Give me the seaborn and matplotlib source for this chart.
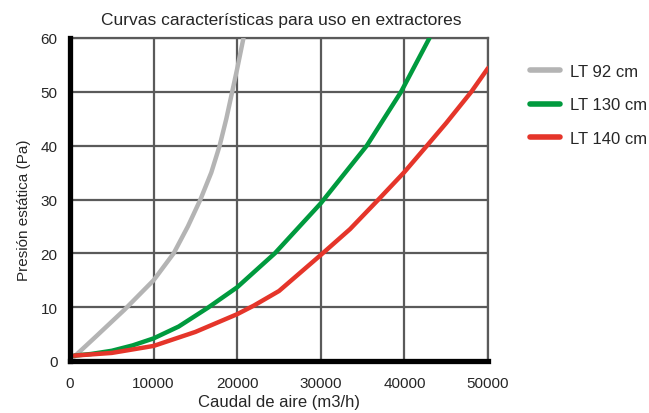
import matplotlib
matplotlib.use("Agg")
import matplotlib.pyplot as plt
import seaborn as sns
import pandas as pd

# ---- data ----
series_names = ["LT 92 cm", "LT 130 cm", "LT 140 cm"]

lt92_flow = [500, 3000, 6500, 10000, 12400, 14100, 15600, 16900, 17900, 18700, 19400, 20000, 20750]
lt92_pres = [0.8, 4.4, 9.5, 15.0, 20.0, 25.0, 30.0, 35.0, 40.0, 45.0, 50.0, 54.3, 60.0]

lt130_flow = [500, 2500, 5000, 7500, 10000, 13000, 16500, 20000, 24500, 30000, 35500, 39600, 43000]
lt130_pres = [1.0, 1.3, 1.9, 2.9, 4.2, 6.4, 9.9, 13.7, 20.0, 29.3, 40.0, 50.0, 60.0]

lt140_flow = [500, 5000, 10000, 15000, 20000, 22000, 25000, 30000, 33500, 36900, 40000, 42700, 45000, 48000, 50000]
lt140_pres = [1.0, 1.5, 2.8, 5.4, 8.7, 10.3, 13.0, 19.7, 24.5, 30.0, 35.1, 40.0, 44.2, 50.0, 54.4]

x_ticks = [0, 10000, 20000, 30000, 40000, 50000]
y_ticks = [0, 10, 20, 30, 40, 50, 60]

colors = ["#b4b4b4", "#009a3e", "#e5352a"]

title = "Curvas características para uso en extractores"
x_label = "Caudal de aire (m3/h)"
y_label = "Presión estática (Pa)"

frames = []
for name, fx, fy in [(series_names[0], lt92_flow, lt92_pres),
                     (series_names[1], lt130_flow, lt130_pres),
                     (series_names[2], lt140_flow, lt140_pres)]:
    frames.append(pd.DataFrame({"flow": fx, "pres": fy, "serie": name}))
df = pd.concat(frames, ignore_index=True)

sns.set_style("white")
plt.rcParams["font.family"] = ["Liberation Sans", "DejaVu Sans"]

W, H = 649, 414
fig = plt.figure(figsize=(W / 100, H / 100), dpi=100)
ax = fig.add_axes([70 / W, 1 - 362 / H, (488 - 70) / W, (362 - 39) / H])

sns.lineplot(data=df, x="flow", y="pres", hue="serie", hue_order=series_names,
             palette=colors, linewidth=3.2, sort=False, estimator=None, ax=ax,
             legend=True, zorder=3)
for ln in ax.get_lines():
    ln.set_solid_capstyle("round")
    ln.set_solid_joinstyle("round")

ax.set_xlim(0, 50000)
ax.set_ylim(0, 60)
ax.set_xticks(x_ticks)
ax.set_yticks(y_ticks)
ax.set_xticklabels([str(v) for v in x_ticks], fontsize=11)
ax.set_yticklabels([str(v) for v in y_ticks], fontsize=11)
ax.tick_params(axis="x", length=0, pad=11)
ax.tick_params(axis="y", length=0, pad=9)

ax.grid(True, color="#5a5a5a", linewidth=1.6, zorder=1)
ax.set_axisbelow(True)

for s in ["top", "right"]:
    ax.spines[s].set_color("#5a5a5a")
    ax.spines[s].set_linewidth(1.6)
for s in ["left", "bottom"]:
    ax.spines[s].set_color("black")
    ax.spines[s].set_linewidth(3.8)
    ax.spines[s].set_zorder(4)

ax.set_xlabel(x_label, fontsize=12)
ax.set_ylabel(y_label, fontsize=11)
ax.xaxis.set_label_coords(0.5, -0.103)
ax.yaxis.set_label_coords(-0.093, 0.47)

fig.text(281 / W, 1 - 21 / H, title, ha="center", va="center", fontsize=12.5)

handles, labels = ax.get_legend_handles_labels()
for h in handles:
    h.set_linewidth(4)
    h.set_solid_capstyle("round")
ax.legend(handles, labels, loc="upper left", bbox_to_anchor=(530 / W, 1 - 65 / H),
          bbox_transform=fig.transFigure, frameon=False, fontsize=12,
          handlelength=1.8, handletextpad=0.6, labelspacing=1.1,
          borderpad=0, borderaxespad=0)

fig.savefig("out.png", dpi=100)
